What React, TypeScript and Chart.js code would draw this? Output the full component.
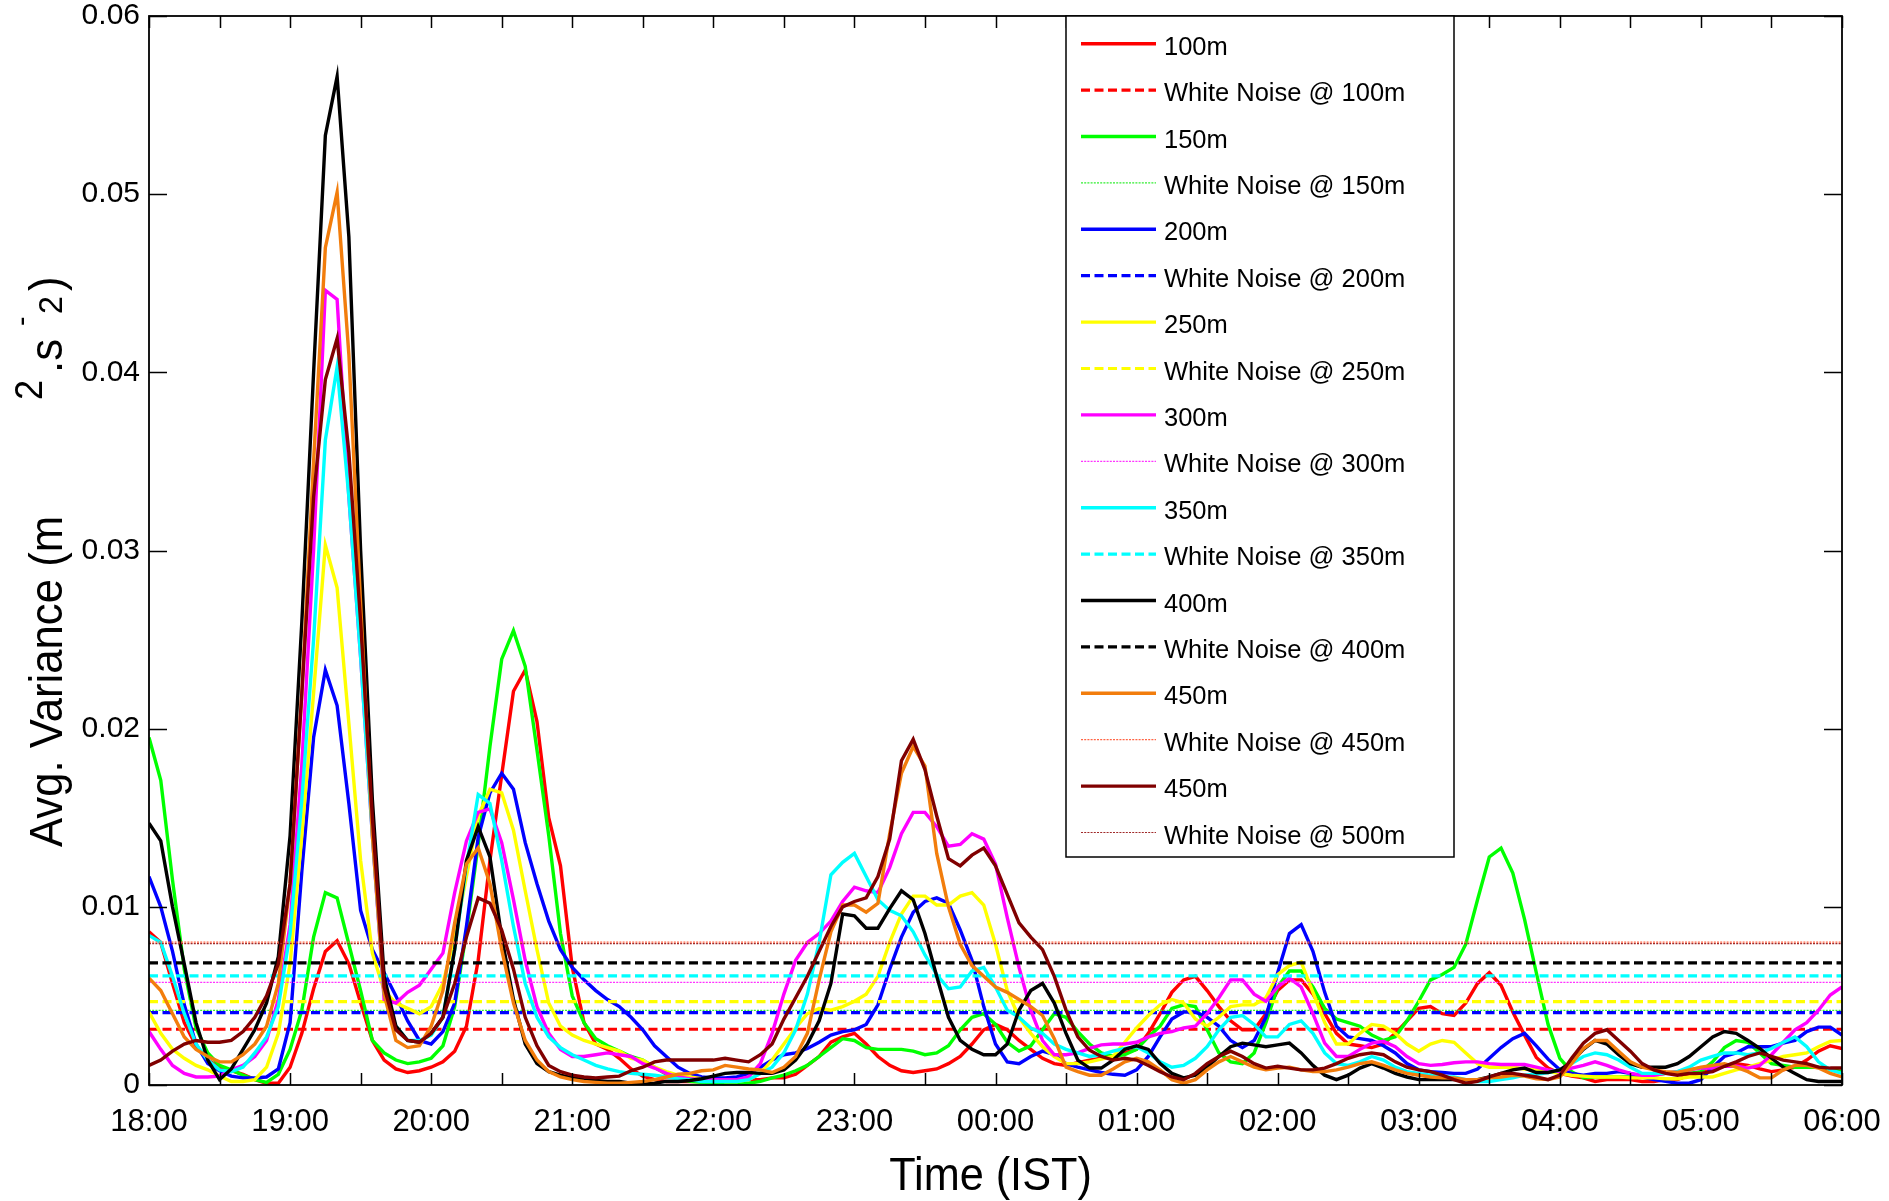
import React, { useEffect, useRef } from 'react';
import { Chart, registerables } from 'chart.js';

Chart.register(...registerables);

// Sampling: every 5 minutes from 18:00 (0 min) to 06:00 (720 min)
const MINUTES = Array.from({ length: 145 }, (_, i) => i * 5);

const X_TICK_LABELS = ['18:00', '19:00', '20:00', '21:00', '22:00', '23:00', '00:00', '01:00', '02:00', '03:00', '04:00', '05:00', '06:00'];
const Y_TICK_LABELS = ['0', '0.01', '0.02', '0.03', '0.04', '0.05', '0.06'];

const SERIES_NAMES = ['100m', '150m', '200m', '250m', '300m', '350m', '400m', '450m', '450m'];
const NOISE_NAMES = ['White Noise @ 100m', 'White Noise @ 150m', 'White Noise @ 200m', 'White Noise @ 250m', 'White Noise @ 300m', 'White Noise @ 350m', 'White Noise @ 400m', 'White Noise @ 450m', 'White Noise @ 500m'];
const SERIES_COLORS = ['#ff0000', '#00ff00', '#0000ff', '#ffff00', '#ff00ff', '#00ffff', '#000000', '#f27d0c', '#800000'];
const NOISE_COLORS = ['#ff0000', '#33ee33', '#0000ff', '#ffff00', '#ff33ff', '#00ffff', '#000000', '#ff6545', '#a02a2a'];
const NOISE_LEVELS = [3.13e-3, 4.19e-3, 4.06e-3, 4.68e-3, 5.76e-3, 6.12e-3, 6.86e-3, 8.02e-3, 7.93e-3];
const NOISE_DASHED = [true, false, true, true, false, true, true, false, false];

// rows = one hour (12 samples), last value = 06:00
const VAR_100M = [
  8.6e-3, 8.0e-3, 5.7e-3, 3.5e-3, 2.2e-3, 1.4e-3, 1.0e-3, 0.8e-3, 0.6e-3, 0.3e-3, 0.1e-3, 0.1e-3,
  1.0e-3, 2.9e-3, 5.4e-3, 7.5e-3, 8.1e-3, 6.8e-3, 4.6e-3, 2.5e-3, 1.4e-3, 0.9e-3, 0.7e-3, 0.8e-3,
  1.0e-3, 1.3e-3, 1.9e-3, 3.3e-3, 7.0e-3, 12.6e-3, 17.4e-3, 22.1e-3, 23.3e-3, 20.4e-3, 15.0e-3, 12.3e-3,
  6.6e-3, 3.5e-3, 2.3e-3, 2.0e-3, 1.5e-3, 0.9e-3, 0.5e-3, 0.3e-3, 0.2e-3, 0.2e-3, 0.2e-3, 0.2e-3,
  0.2e-3, 0.2e-3, 0.2e-3, 0.3e-3, 0.3e-3, 0.4e-3, 0.4e-3, 0.6e-3, 1.1e-3, 1.6e-3, 2.4e-3, 2.7e-3,
  2.9e-3, 2.3e-3, 1.6e-3, 1.1e-3, 0.8e-3, 0.7e-3, 0.8e-3, 0.9e-3, 1.2e-3, 1.6e-3, 2.3e-3, 3.1e-3,
  3.4e-3, 3.1e-3, 2.5e-3, 2.0e-3, 1.5e-3, 1.2e-3, 1.1e-3, 1.25e-3, 1.4e-3, 1.5e-3, 1.6e-3, 1.8e-3,
  2.0e-3, 2.9e-3, 4.0e-3, 5.2e-3, 5.9e-3, 6.1e-3, 5.3e-3, 4.4e-3, 3.6e-3, 3.1e-3, 3.1e-3, 4.0e-3,
  5.3e-3, 5.9e-3, 5.9e-3, 5.1e-3, 4.0e-3, 2.9e-3, 2.3e-3, 2.2e-3, 2.1e-3, 2.3e-3, 2.9e-3, 3.6e-3,
  4.3e-3, 4.4e-3, 4.0e-3, 3.9e-3, 4.6e-3, 5.7e-3, 6.3e-3, 5.6e-3, 4.1e-3, 2.8e-3, 1.55e-3, 0.95e-3,
  0.65e-3, 0.5e-3, 0.4e-3, 0.2e-3, 0.3e-3, 0.3e-3, 0.3e-3, 0.2e-3, 0.2e-3, 0.3e-3, 0.3e-3, 0.55e-3,
  0.65e-3, 0.9e-3, 1.1e-3, 1.2e-3, 1.1e-3, 0.9e-3, 0.75e-3, 0.85e-3, 1.0e-3, 1.4e-3, 1.9e-3, 2.2e-3,
  2.05e-3,
];

const VAR_150M = [
  19.5e-3, 17.1e-3, 11.5e-3, 6.5e-3, 3.2e-3, 1.8e-3, 1.1e-3, 0.85e-3, 0.55e-3, 0.3e-3, 0.15e-3, 0.6e-3,
  2.0e-3, 4.2e-3, 8.3e-3, 10.8e-3, 10.5e-3, 7.9e-3, 5.3e-3, 2.5e-3, 1.8e-3, 1.4e-3, 1.2e-3, 1.3e-3,
  1.5e-3, 2.2e-3, 4.4e-3, 8.6e-3, 13.5e-3, 19.0e-3, 23.9e-3, 25.5e-3, 23.5e-3, 18.8e-3, 14.0e-3, 8.5e-3,
  5.0e-3, 3.5e-3, 2.6e-3, 2.2e-3, 1.9e-3, 1.6e-3, 1.4e-3, 1.0e-3, 0.6e-3, 0.35e-3, 0.2e-3, 0.15e-3,
  0.1e-3, 0.1e-3, 0.1e-3, 0.1e-3, 0.2e-3, 0.4e-3, 0.55e-3, 0.8e-3, 1.1e-3, 1.6e-3, 2.1e-3, 2.6e-3,
  2.5e-3, 2.1e-3, 2.0e-3, 2.0e-3, 2.0e-3, 1.9e-3, 1.7e-3, 1.8e-3, 2.2e-3, 3.1e-3, 3.8e-3, 4.0e-3,
  3.4e-3, 2.4e-3, 1.9e-3, 2.2e-3, 3.1e-3, 4.0e-3, 3.8e-3, 3.0e-3, 2.3e-3, 1.8e-3, 1.6e-3, 1.7e-3,
  2.0e-3, 2.7e-3, 3.3e-3, 4.3e-3, 4.5e-3, 4.4e-3, 3.1e-3, 1.8e-3, 1.3e-3, 1.2e-3, 1.8e-3, 3.5e-3,
  5.5e-3, 6.4e-3, 6.4e-3, 5.5e-3, 4.3e-3, 3.7e-3, 3.5e-3, 3.3e-3, 2.8e-3, 2.5e-3, 2.7e-3, 3.6e-3,
  4.7e-3, 5.9e-3, 6.2e-3, 6.6e-3, 7.9e-3, 10.4e-3, 12.8e-3, 13.3e-3, 11.9e-3, 9.3e-3, 6.3e-3, 3.4e-3,
  1.5e-3, 0.75e-3, 0.4e-3, 0.45e-3, 0.45e-3, 0.45e-3, 0.45e-3, 0.55e-3, 0.55e-3, 0.65e-3, 0.65e-3, 0.65e-3,
  0.75e-3, 1.3e-3, 2.1e-3, 2.5e-3, 2.4e-3, 1.8e-3, 1.2e-3, 1.1e-3, 1.0e-3, 1.0e-3, 1.0e-3, 0.9e-3,
  0.75e-3,
];

const VAR_200M = [
  11.7e-3, 10.0e-3, 7.5e-3, 4.5e-3, 2.3e-3, 1.2e-3, 0.8e-3, 0.5e-3, 0.4e-3, 0.4e-3, 0.45e-3, 0.9e-3,
  3.5e-3, 12.0e-3, 19.5e-3, 23.3e-3, 21.3e-3, 15.8e-3, 9.8e-3, 7.6e-3, 6.3e-3, 5.0e-3, 3.6e-3, 2.5e-3,
  2.3e-3, 3.0e-3, 4.6e-3, 8.9e-3, 13.9e-3, 16.4e-3, 17.5e-3, 16.6e-3, 13.6e-3, 11.3e-3, 9.2e-3, 7.6e-3,
  6.6e-3, 5.9e-3, 5.3e-3, 4.8e-3, 4.4e-3, 3.8e-3, 3.1e-3, 2.2e-3, 1.6e-3, 1.0e-3, 0.65e-3, 0.45e-3,
  0.4e-3, 0.4e-3, 0.45e-3, 0.65e-3, 1.0e-3, 1.4e-3, 1.7e-3, 1.8e-3, 2.05e-3, 2.4e-3, 2.8e-3, 3.0e-3,
  3.1e-3, 3.4e-3, 4.5e-3, 6.5e-3, 8.3e-3, 9.7e-3, 10.3e-3, 10.5e-3, 10.2e-3, 8.7e-3, 7.0e-3, 4.4e-3,
  2.3e-3, 1.3e-3, 1.2e-3, 1.6e-3, 1.9e-3, 1.7e-3, 1.2e-3, 1.0e-3, 0.85e-3, 0.7e-3, 0.6e-3, 0.55e-3,
  0.85e-3, 1.6e-3, 2.7e-3, 3.7e-3, 4.1e-3, 4.1e-3, 3.8e-3, 3.3e-3, 2.5e-3, 2.1e-3, 2.5e-3, 3.8e-3,
  6.3e-3, 8.5e-3, 9.0e-3, 7.5e-3, 5.2e-3, 3.3e-3, 2.7e-3, 2.6e-3, 2.5e-3, 2.2e-3, 1.8e-3, 1.2e-3,
  0.85e-3, 0.75e-3, 0.7e-3, 0.65e-3, 0.65e-3, 0.9e-3, 1.5e-3, 2.1e-3, 2.6e-3, 2.9e-3, 2.2e-3, 1.45e-3,
  0.85e-3, 0.65e-3, 0.55e-3, 0.65e-3, 0.65e-3, 0.75e-3, 0.65e-3, 0.45e-3, 0.3e-3, 0.2e-3, 0.1e-3, 0.1e-3,
  0.3e-3, 1.0e-3, 1.6e-3, 1.8e-3, 2.15e-3, 2.15e-3, 2.15e-3, 2.35e-3, 2.5e-3, 3.0e-3, 3.25e-3, 3.25e-3,
  2.8e-3,
];

const VAR_250M = [
  4.1e-3, 2.9e-3, 2.0e-3, 1.5e-3, 1.1e-3, 0.85e-3, 0.5e-3, 0.2e-3, 0.2e-3, 0.3e-3, 1.0e-3, 2.9e-3,
  6.8e-3, 14.0e-3, 22.0e-3, 30.3e-3, 27.9e-3, 20.3e-3, 12.6e-3, 7.4e-3, 5.3e-3, 4.6e-3, 4.3e-3, 4.0e-3,
  4.4e-3, 5.7e-3, 8.3e-3, 11.7e-3, 15.1e-3, 16.6e-3, 16.4e-3, 14.3e-3, 10.9e-3, 7.6e-3, 4.6e-3, 3.3e-3,
  2.8e-3, 2.5e-3, 2.3e-3, 2.1e-3, 1.9e-3, 1.5e-3, 1.4e-3, 1.0e-3, 0.75e-3, 0.55e-3, 0.45e-3, 0.35e-3,
  0.3e-3, 0.2e-3, 0.2e-3, 0.3e-3, 0.65e-3, 1.4e-3, 2.3e-3, 3.2e-3, 4.0e-3, 4.3e-3, 4.2e-3, 4.4e-3,
  4.7e-3, 5.1e-3, 6.1e-3, 8.0e-3, 9.6e-3, 10.6e-3, 10.6e-3, 10.1e-3, 10.1e-3, 10.6e-3, 10.8e-3, 10.1e-3,
  7.9e-3, 5.3e-3, 3.8e-3, 2.9e-3, 2.15e-3, 1.6e-3, 1.2e-3, 1.2e-3, 1.3e-3, 1.45e-3, 1.6e-3, 2.4e-3,
  3.2e-3, 3.9e-3, 4.5e-3, 4.8e-3, 4.6e-3, 3.7e-3, 3.3e-3, 3.8e-3, 4.4e-3, 4.5e-3, 4.5e-3, 4.9e-3,
  6.2e-3, 6.7e-3, 6.9e-3, 5.2e-3, 3.5e-3, 2.3e-3, 2.3e-3, 2.9e-3, 3.4e-3, 3.3e-3, 2.9e-3, 2.3e-3,
  1.9e-3, 2.3e-3, 2.5e-3, 2.4e-3, 1.8e-3, 1.2e-3, 1.0e-3, 1.0e-3, 1.0e-3, 0.9e-3, 0.85e-3, 0.75e-3,
  0.65e-3, 0.55e-3, 0.5e-3, 0.45e-3, 0.45e-3, 0.45e-3, 0.4e-3, 0.4e-3, 0.4e-3, 0.35e-3, 0.35e-3, 0.45e-3,
  0.45e-3, 0.45e-3, 0.65e-3, 0.85e-3, 1.0e-3, 1.2e-3, 1.4e-3, 1.6e-3, 1.7e-3, 1.8e-3, 2.15e-3, 2.45e-3,
  2.5e-3,
];

const VAR_300M = [
  3.0e-3, 2.0e-3, 1.1e-3, 0.65e-3, 0.45e-3, 0.45e-3, 0.5e-3, 0.85e-3, 1.1e-3, 1.6e-3, 2.5e-3, 4.8e-3,
  9.0e-3, 18.0e-3, 30.0e-3, 44.6e-3, 44.1e-3, 33.0e-3, 24.0e-3, 14.0e-3, 4.8e-3, 4.6e-3, 5.2e-3, 5.6e-3,
  6.5e-3, 7.4e-3, 10.8e-3, 13.7e-3, 15.3e-3, 15.5e-3, 13.6e-3, 10.4e-3, 7.0e-3, 4.4e-3, 2.9e-3, 2.0e-3,
  1.6e-3, 1.6e-3, 1.7e-3, 1.8e-3, 1.7e-3, 1.6e-3, 1.2e-3, 0.95e-3, 0.65e-3, 0.45e-3, 0.35e-3, 0.3e-3,
  0.3e-3, 0.3e-3, 0.3e-3, 0.45e-3, 1.2e-3, 2.9e-3, 5.1e-3, 7.0e-3, 8.0e-3, 8.5e-3, 9.2e-3, 10.3e-3,
  11.1e-3, 10.9e-3, 10.8e-3, 12.2e-3, 14.1e-3, 15.3e-3, 15.3e-3, 14.5e-3, 13.4e-3, 13.5e-3, 14.1e-3, 13.8e-3,
  12.4e-3, 9.4e-3, 6.6e-3, 4.2e-3, 2.5e-3, 1.7e-3, 1.7e-3, 1.8e-3, 2.05e-3, 2.25e-3, 2.3e-3, 2.3e-3,
  2.4e-3, 2.7e-3, 2.9e-3, 3.0e-3, 3.2e-3, 3.3e-3, 4.0e-3, 4.9e-3, 5.9e-3, 5.9e-3, 5.1e-3, 4.7e-3,
  5.5e-3, 6.0e-3, 5.5e-3, 4.0e-3, 2.35e-3, 1.6e-3, 1.6e-3, 2.0e-3, 2.35e-3, 2.45e-3, 2.15e-3, 1.6e-3,
  1.2e-3, 1.1e-3, 1.15e-3, 1.25e-3, 1.3e-3, 1.3e-3, 1.2e-3, 1.15e-3, 1.15e-3, 1.15e-3, 1.0e-3, 0.85e-3,
  0.75e-3, 0.95e-3, 1.1e-3, 1.3e-3, 1.1e-3, 0.85e-3, 0.65e-3, 0.55e-3, 0.55e-3, 0.65e-3, 0.75e-3, 0.85e-3,
  0.95e-3, 0.95e-3, 1.05e-3, 1.05e-3, 0.95e-3, 1.1e-3, 1.7e-3, 2.4e-3, 3.1e-3, 3.5e-3, 4.2e-3, 5.05e-3,
  5.5e-3,
];

const VAR_350M = [
  8.4e-3, 8.0e-3, 6.1e-3, 4.0e-3, 2.3e-3, 1.4e-3, 0.85e-3, 0.75e-3, 1.0e-3, 1.8e-3, 2.7e-3, 4.4e-3,
  8.5e-3, 16.0e-3, 25.0e-3, 36.2e-3, 40.3e-3, 33.0e-3, 24.0e-3, 14.0e-3, 5.1e-3, 3.3e-3, 2.5e-3, 2.5e-3,
  2.8e-3, 3.8e-3, 7.6e-3, 12.3e-3, 16.3e-3, 15.8e-3, 12.6e-3, 8.9e-3, 5.7e-3, 3.8e-3, 2.7e-3, 2.1e-3,
  1.7e-3, 1.4e-3, 1.1e-3, 0.9e-3, 0.75e-3, 0.65e-3, 0.6e-3, 0.55e-3, 0.45e-3, 0.35e-3, 0.3e-3, 0.2e-3,
  0.2e-3, 0.2e-3, 0.2e-3, 0.3e-3, 0.65e-3, 1.0e-3, 1.8e-3, 3.1e-3, 5.1e-3, 8.0e-3, 11.8e-3, 12.5e-3,
  13.0e-3, 11.7e-3, 10.4e-3, 9.8e-3, 9.5e-3, 8.6e-3, 7.3e-3, 6.2e-3, 5.4e-3, 5.5e-3, 6.4e-3, 6.6e-3,
  5.5e-3, 4.2e-3, 3.8e-3, 3.2e-3, 2.9e-3, 2.3e-3, 2.0e-3, 1.8e-3, 1.6e-3, 1.7e-3, 1.9e-3, 2.05e-3,
  2.15e-3, 1.8e-3, 1.3e-3, 1.0e-3, 1.1e-3, 1.5e-3, 2.15e-3, 3.1e-3, 3.8e-3, 3.9e-3, 3.4e-3, 2.7e-3,
  2.7e-3, 3.4e-3, 3.6e-3, 2.9e-3, 1.8e-3, 1.2e-3, 1.1e-3, 1.3e-3, 1.6e-3, 1.4e-3, 1.0e-3, 0.75e-3,
  0.65e-3, 0.55e-3, 0.45e-3, 0.45e-3, 0.3e-3, 0.2e-3, 0.2e-3, 0.3e-3, 0.4e-3, 0.55e-3, 0.6e-3, 0.7e-3,
  0.85e-3, 1.2e-3, 1.6e-3, 1.8e-3, 1.7e-3, 1.4e-3, 1.0e-3, 0.65e-3, 0.65e-3, 0.65e-3, 0.75e-3, 1.0e-3,
  1.4e-3, 1.6e-3, 1.8e-3, 1.8e-3, 1.7e-3, 1.8e-3, 2.05e-3, 2.4e-3, 2.7e-3, 2.15e-3, 1.3e-3, 0.85e-3,
  0.65e-3,
];

const VAR_400M = [
  14.7e-3, 13.7e-3, 10.0e-3, 6.8e-3, 3.5e-3, 1.4e-3, 0.3e-3, 0.9e-3, 2.0e-3, 3.1e-3, 4.6e-3, 7.2e-3,
  14.0e-3, 26.0e-3, 40.0e-3, 53.3e-3, 56.6e-3, 47.6e-3, 30.0e-3, 16.0e-3, 6.1e-3, 3.3e-3, 2.5e-3, 2.4e-3,
  2.9e-3, 3.8e-3, 7.6e-3, 12.6e-3, 14.5e-3, 12.8e-3, 8.3e-3, 4.8e-3, 2.3e-3, 1.2e-3, 0.75e-3, 0.55e-3,
  0.4e-3, 0.3e-3, 0.25e-3, 0.2e-3, 0.2e-3, 0.1e-3, 0.05e-3, 0.1e-3, 0.2e-3, 0.2e-3, 0.25e-3, 0.35e-3,
  0.5e-3, 0.65e-3, 0.7e-3, 0.7e-3, 0.65e-3, 0.65e-3, 0.85e-3, 1.4e-3, 2.3e-3, 3.6e-3, 5.7e-3, 9.6e-3,
  9.5e-3, 8.8e-3, 8.8e-3, 9.9e-3, 10.9e-3, 10.4e-3, 8.5e-3, 6.1e-3, 3.8e-3, 2.5e-3, 2.0e-3, 1.7e-3,
  1.7e-3, 2.3e-3, 4.2e-3, 5.3e-3, 5.7e-3, 4.6e-3, 2.9e-3, 1.4e-3, 0.95e-3, 0.95e-3, 1.4e-3, 2.0e-3,
  2.2e-3, 2.0e-3, 1.2e-3, 0.65e-3, 0.4e-3, 0.55e-3, 1.0e-3, 1.6e-3, 2.15e-3, 2.35e-3, 2.25e-3, 2.15e-3,
  2.25e-3, 2.35e-3, 1.8e-3, 1.1e-3, 0.55e-3, 0.3e-3, 0.55e-3, 0.95e-3, 1.2e-3, 0.95e-3, 0.65e-3, 0.45e-3,
  0.3e-3, 0.3e-3, 0.3e-3, 0.3e-3, 0.3e-3, 0.3e-3, 0.45e-3, 0.65e-3, 0.85e-3, 0.95e-3, 0.7e-3, 0.7e-3,
  0.85e-3, 1.3e-3, 2.0e-3, 2.5e-3, 2.3e-3, 1.7e-3, 1.2e-3, 1.0e-3, 1.0e-3, 1.0e-3, 1.2e-3, 1.6e-3,
  2.15e-3, 2.7e-3, 3.0e-3, 2.9e-3, 2.5e-3, 2.05e-3, 1.5e-3, 1.0e-3, 0.65e-3, 0.3e-3, 0.2e-3, 0.2e-3,
  0.2e-3,
];

const VAR_450M = [
  6.0e-3, 5.3e-3, 4.0e-3, 2.7e-3, 2.0e-3, 1.6e-3, 1.3e-3, 1.3e-3, 1.7e-3, 2.3e-3, 3.3e-3, 5.7e-3,
  11.3e-3, 22.0e-3, 35.0e-3, 47.0e-3, 50.1e-3, 41.0e-3, 27.0e-3, 14.0e-3, 5.1e-3, 2.5e-3, 2.1e-3, 2.2e-3,
  3.3e-3, 5.3e-3, 9.1e-3, 12.4e-3, 13.3e-3, 11.3e-3, 7.6e-3, 4.6e-3, 2.5e-3, 1.4e-3, 0.75e-3, 0.45e-3,
  0.3e-3, 0.2e-3, 0.15e-3, 0.1e-3, 0.1e-3, 0.15e-3, 0.2e-3, 0.3e-3, 0.45e-3, 0.6e-3, 0.65e-3, 0.8e-3,
  0.85e-3, 1.1e-3, 1.0e-3, 0.9e-3, 0.85e-3, 0.7e-3, 1.0e-3, 1.6e-3, 2.9e-3, 5.9e-3, 8.6e-3, 10.1e-3,
  10.1e-3, 9.7e-3, 10.2e-3, 14.1e-3, 17.5e-3, 19.0e-3, 17.9e-3, 13.0e-3, 10.0e-3, 7.9e-3, 6.7e-3, 6.1e-3,
  5.5e-3, 5.2e-3, 4.8e-3, 4.4e-3, 3.9e-3, 2.6e-3, 1.0e-3, 0.75e-3, 0.55e-3, 0.55e-3, 0.9e-3, 1.3e-3,
  1.5e-3, 1.3e-3, 0.85e-3, 0.3e-3, 0.1e-3, 0.3e-3, 0.85e-3, 1.3e-3, 1.6e-3, 1.3e-3, 1.0e-3, 0.85e-3,
  0.95e-3, 1.0e-3, 0.85e-3, 0.75e-3, 0.75e-3, 0.85e-3, 1.0e-3, 1.2e-3, 1.3e-3, 1.1e-3, 0.85e-3, 0.65e-3,
  0.55e-3, 0.45e-3, 0.4e-3, 0.4e-3, 0.3e-3, 0.3e-3, 0.4e-3, 0.45e-3, 0.55e-3, 0.5e-3, 0.35e-3, 0.3e-3,
  0.45e-3, 1.2e-3, 2.05e-3, 2.5e-3, 2.5e-3, 1.9e-3, 1.3e-3, 1.0e-3, 0.85e-3, 0.75e-3, 0.7e-3, 0.85e-3,
  1.0e-3, 1.1e-3, 1.2e-3, 1.0e-3, 0.75e-3, 0.4e-3, 0.4e-3, 0.85e-3, 1.1e-3, 1.1e-3, 0.95e-3, 0.65e-3,
  0.45e-3,
];

const VAR_450M_B = [
  1.1e-3, 1.4e-3, 1.9e-3, 2.3e-3, 2.5e-3, 2.4e-3, 2.4e-3, 2.5e-3, 3.0e-3, 3.8e-3, 5.0e-3, 6.8e-3,
  11.3e-3, 22.0e-3, 33.0e-3, 39.6e-3, 41.9e-3, 35.5e-3, 26.0e-3, 15.0e-3, 5.5e-3, 3.1e-3, 2.5e-3, 2.4e-3,
  2.9e-3, 3.8e-3, 5.7e-3, 8.3e-3, 10.5e-3, 10.2e-3, 8.7e-3, 6.5e-3, 3.8e-3, 2.2e-3, 1.1e-3, 0.75e-3,
  0.55e-3, 0.45e-3, 0.4e-3, 0.45e-3, 0.5e-3, 0.8e-3, 1.0e-3, 1.3e-3, 1.4e-3, 1.4e-3, 1.4e-3, 1.4e-3,
  1.4e-3, 1.5e-3, 1.4e-3, 1.3e-3, 1.7e-3, 2.3e-3, 3.7e-3, 4.9e-3, 6.1e-3, 7.5e-3, 8.9e-3, 10.0e-3,
  10.3e-3, 10.5e-3, 11.7e-3, 13.8e-3, 18.2e-3, 19.4e-3, 17.7e-3, 15.1e-3, 12.7e-3, 12.3e-3, 12.9e-3, 13.3e-3,
  12.3e-3, 10.7e-3, 9.1e-3, 8.3e-3, 7.6e-3, 6.1e-3, 4.2e-3, 2.7e-3, 1.95e-3, 1.6e-3, 1.4e-3, 1.5e-3,
  1.4e-3, 1.1e-3, 0.75e-3, 0.45e-3, 0.3e-3, 0.65e-3, 1.2e-3, 1.6e-3, 1.9e-3, 1.6e-3, 1.2e-3, 0.95e-3,
  1.05e-3, 0.95e-3, 0.85e-3, 0.85e-3, 0.95e-3, 1.2e-3, 1.5e-3, 1.7e-3, 1.8e-3, 1.7e-3, 1.3e-3, 1.0e-3,
  0.85e-3, 0.75e-3, 0.55e-3, 0.3e-3, 0.1e-3, 0.2e-3, 0.45e-3, 0.65e-3, 0.65e-3, 0.55e-3, 0.45e-3, 0.3e-3,
  0.55e-3, 1.5e-3, 2.35e-3, 2.9e-3, 3.1e-3, 2.5e-3, 1.9e-3, 1.2e-3, 0.85e-3, 0.65e-3, 0.55e-3, 0.65e-3,
  0.65e-3, 0.75e-3, 1.05e-3, 1.3e-3, 1.6e-3, 1.8e-3, 1.6e-3, 1.4e-3, 1.3e-3, 1.2e-3, 1.0e-3, 0.95e-3,
  0.95e-3,
];

const SERIES_VALUES = [VAR_100M, VAR_150M, VAR_200M, VAR_250M, VAR_300M, VAR_350M, VAR_400M, VAR_450M, VAR_450M_B];

const FONT = '"Liberation Sans", Arial, sans-serif';

const decorPlugin = {
  id: 'matlabDecor',
  afterDraw(chart: any) {
    const { ctx, chartArea: a, scales } = chart;
    const xs = scales.x;
    const ys = scales.y;
    ctx.save();

    // inward ticks
    ctx.strokeStyle = '#000';
    ctx.lineWidth = 1.5;
    ctx.setLineDash([]);
    ctx.beginPath();
    for (let m = 0; m <= 720; m += 30) {
      const px = Math.round(xs.getPixelForValue(m)) + 0.5;
      ctx.moveTo(px, a.bottom);
      ctx.lineTo(px, a.bottom - 12);
      ctx.moveTo(px, a.top);
      ctx.lineTo(px, a.top + 12);
    }
    ys.ticks.forEach((t: any) => {
      const py = Math.round(ys.getPixelForValue(t.value)) + 0.5;
      ctx.moveTo(a.left, py);
      ctx.lineTo(a.left + 18, py);
      ctx.moveTo(a.right, py);
      ctx.lineTo(a.right - 18, py);
    });
    ctx.stroke();

    // axes box
    ctx.lineWidth = 1.8;
    ctx.strokeRect(a.left, a.top, a.right - a.left, a.bottom - a.top);

    // legend
    const L = { left: 1066, top: a.top, right: 1454, bottom: 857 };
    ctx.fillStyle = '#fff';
    ctx.fillRect(L.left, L.top, L.right - L.left, L.bottom - L.top);
    ctx.strokeStyle = '#000';
    ctx.lineWidth = 1.5;
    ctx.strokeRect(L.left, L.top, L.right - L.left, L.bottom - L.top);
    chart.data.datasets.forEach((ds: any, k: number) => {
      const cy = L.top + 30.7 + k * 46.4;
      ctx.strokeStyle = ds.borderColor;
      ctx.lineWidth = ds.borderWidth;
      ctx.setLineDash(ds.borderDash || []);
      ctx.beginPath();
      ctx.moveTo(L.left + 15, cy - 3);
      ctx.lineTo(L.left + 90, cy - 3);
      ctx.stroke();
      ctx.setLineDash([]);
      ctx.fillStyle = '#000';
      ctx.font = `25.5px ${FONT}`;
      ctx.textAlign = 'left';
      ctx.textBaseline = 'middle';
      ctx.fillText(ds.label, L.left + 98, cy + 1);
    });

    // x title
    ctx.fillStyle = '#000';
    ctx.save();
    ctx.translate((a.left + a.right) / 2 - 5, 1177);
    ctx.scale(0.94, 1);
    ctx.font = `46px ${FONT}`;
    ctx.textAlign = 'center';
    ctx.textBaseline = 'middle';
    ctx.fillText('Time (IST)', 0, 0);
    ctx.restore();

    // y title (rotated, with the odd superscript layout of the original)
    ctx.save();
    ctx.translate(62, 847);
    ctx.rotate(-Math.PI / 2);
    const piece = (text: string, along: number, up: number, size: number) => {
      ctx.save();
      ctx.translate(along, -up);
      ctx.scale(0.95, 1);
      ctx.font = `${size}px ${FONT}`;
      ctx.textAlign = 'left';
      ctx.textBaseline = 'alphabetic';
      ctx.fillText(text, 0, 0);
      ctx.restore();
    };
    piece('Avg. Variance (m', 0, 0, 46);
    piece('2', 447, 20, 38);
    piece('.s', 474, 0, 46);
    piece('-', 521, 31, 30);
    piece('2', 533, 0, 34);
    piece(')', 556, 0, 46);
    ctx.restore();

    ctx.restore();
  },
};

export default function App() {
  const canvasRef = useRef<HTMLCanvasElement | null>(null);

  useEffect(() => {
    document.body.style.margin = '0';
    document.body.style.overflow = 'hidden';
    const canvas = canvasRef.current;
    if (!canvas) return;

    const datasets: any[] = [];
    SERIES_VALUES.forEach((vals, k) => {
      datasets.push({
        label: SERIES_NAMES[k],
        data: vals,
        borderColor: SERIES_COLORS[k],
        backgroundColor: SERIES_COLORS[k],
        borderWidth: 3.4,
        pointRadius: 0,
        tension: 0,
        fill: false,
        borderJoinStyle: 'miter',
        order: 100 - 2 * k,
      });
      const lvl = NOISE_LEVELS[k];
      datasets.push({
        label: NOISE_NAMES[k],
        data: [
          { x: MINUTES[0], y: lvl },
          { x: MINUTES[MINUTES.length - 1], y: lvl },
        ],
        borderColor: NOISE_COLORS[k],
        backgroundColor: NOISE_COLORS[k],
        borderWidth: NOISE_DASHED[k] ? 3.2 : 1.2,
        borderDash: NOISE_DASHED[k] ? [9, 4.5] : [2, 1.2],
        pointRadius: 0,
        tension: 0,
        fill: false,
        order: 99 - 2 * k,
      });
    });

    const chart = new Chart(canvas, {
      type: 'line',
      data: { labels: MINUTES, datasets },
      options: {
        responsive: false,
        animation: false,
        devicePixelRatio: 1,
        layout: { padding: { left: 0, right: 47, top: 16, bottom: 0 } },
        plugins: {
          legend: { display: false },
          tooltip: { enabled: false },
          title: { display: false },
        },
        scales: {
          x: {
            type: 'linear',
            min: 0,
            max: 720,
            afterFit: (s: any) => {
              s.height = 116;
              s.paddingLeft = 0;
              s.paddingRight = 0;
              s.paddingTop = 0;
              s.paddingBottom = 0;
            },
            grid: { display: false, drawTicks: false },
            border: { display: false },
            ticks: {
              stepSize: 60,
              autoSkip: false,
              maxRotation: 0,
              padding: 19,
              color: '#000',
              font: { family: FONT, size: 31 },
              callback: (v: any) => X_TICK_LABELS[Math.round(Number(v) / 60)],
            },
          },
          y: {
            type: 'linear',
            min: 0,
            max: 0.06,
            afterFit: (s: any) => {
              s.width = 149;
              s.paddingLeft = 0;
              s.paddingRight = 0;
              s.paddingTop = 0;
              s.paddingBottom = 0;
            },
            grid: { display: false, drawTicks: false },
            border: { display: false },
            ticks: {
              stepSize: 0.01,
              padding: 9,
              color: '#000',
              font: { family: FONT, size: 30 },
              callback: (_v: any, i: number) => Y_TICK_LABELS[i],
            },
          },
        },
      } as any,
      plugins: [decorPlugin],
    });

    return () => {
      chart.destroy();
    };
  }, []);

  return (
    <div style={{ width: 1889, height: 1201, background: '#fff' }}>
      <canvas ref={canvasRef} width={1889} height={1201} style={{ display: 'block' }} />
    </div>
  );
}
